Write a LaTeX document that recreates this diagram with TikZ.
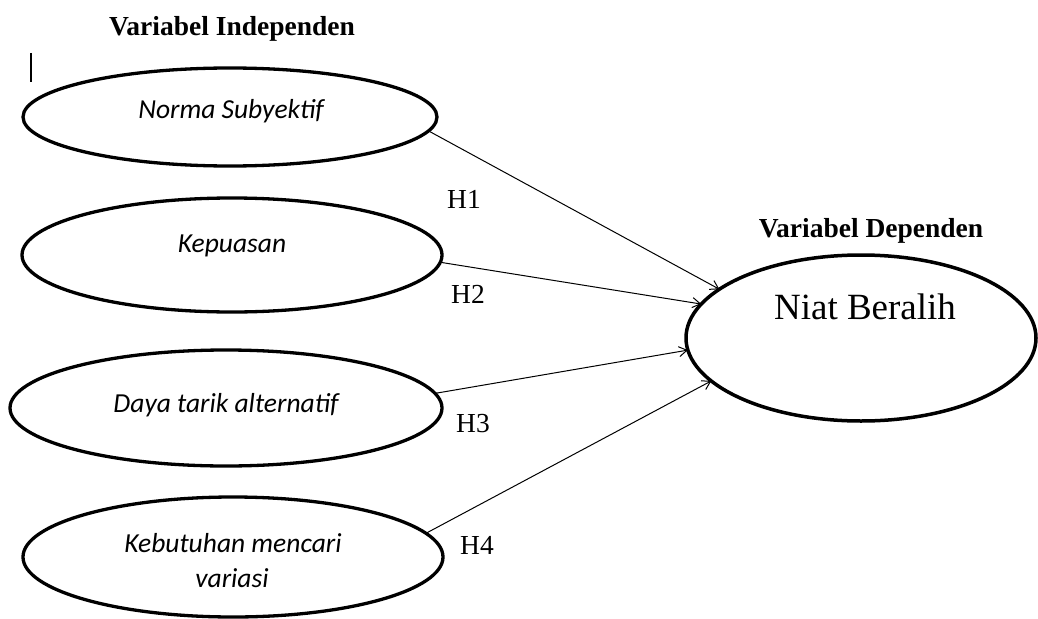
\documentclass[tikz,border=0pt]{standalone}
\usepackage{fontspec}
\setmainfont{Liberation Serif}
\newfontfamily\calib{Carlito}
\usetikzlibrary{shapes.geometric,arrows.meta}
\begin{document}
\begin{tikzpicture}[x=1pt,y=-1pt,
  varbox/.style={ellipse,draw,line width=3.3pt,inner sep=0pt,outer sep=0pt},
  itlab/.style={anchor=base,inner sep=0pt,font=\calib\itshape\fontsize{27.5}{33}\selectfont},
  hlab/.style={anchor=base,inner sep=0pt,font=\fontsize{27.5}{33}\selectfont},
  ttl/.style={anchor=base,inner sep=0pt,font=\bfseries\fontsize{27.5}{33}\selectfont},
  conn/.style={line width=1pt,-{Straight Barb[length=8pt,width=10pt]}}]
\useasboundingbox (0,0) rectangle (1038,618);
% titles
\node[ttl] (tind) at (232,36) {Variabel Independen};
\node[ttl] (tdep) at (871,237) {Variabel Dependen};
% cursor mark
\draw[line width=1.5pt] (31,53) -- (31,82);
% independent variables
\node[varbox,minimum width=414pt,minimum height=98pt] (n1) at (230,117) {};
\node[itlab] (l1) at (231,118) {Norma Subyektif};
\node[varbox,minimum width=420pt,minimum height=114pt] (n2) at (232,255) {};
\node[itlab] (l2) at (232,252) {Kepuasan};
\node[varbox,minimum width=432pt,minimum height=116pt] (n3) at (226,408) {};
\node[itlab] (l3) at (226,412) {Daya tarik alternatif};
\node[varbox,minimum width=420pt,minimum height=120pt] (n4) at (233,557) {};
\node[itlab] (l4a) at (233,552) {Kebutuhan mencari};
\node[itlab] (l4b) at (232,587) {variasi};
% dependent variable
\node[varbox,line width=3.5pt,minimum width=350pt,minimum height=166pt] (nb) at (861,338) {};
\node[anchor=base,inner sep=0pt,font=\fontsize{37}{44}\selectfont] (lnb) at (865,319) {Niat Beralih};
% connectors
\draw[conn] (n1.-4) -- (nb.161.7);
\draw[conn] (n2.-2) -- (nb.168.3);
\draw[conn] (n3.4) -- (nb.184.5);
\draw[conn] (n4.7.5) -- (nb.196.4);
% hypothesis labels
\node[hlab] (h1) at (464,208) {H1};
\node[hlab] (h2) at (468,303) {H2};
\node[hlab] (h3) at (473,432) {H3};
\node[hlab] (h4) at (477,554) {H4};
\end{tikzpicture}
\end{document}
